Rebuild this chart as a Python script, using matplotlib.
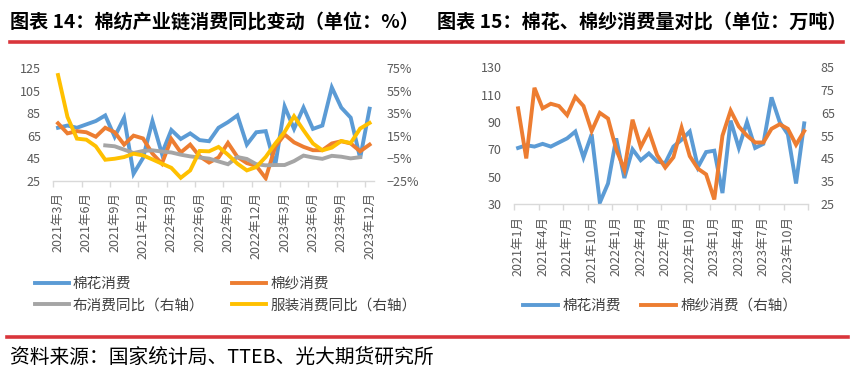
import matplotlib
matplotlib.use('Agg')
import matplotlib.pyplot as plt
from matplotlib.lines import Line2D
from matplotlib.ticker import FixedLocator, FuncFormatter
import numpy as np

plt.rcParams['font.family'] = ['Noto Sans CJK SC', 'DejaVu Sans']

# ---------------- data ----------------
# right chart: 2021-01 .. 2023-12 (万吨)
cotton = [71, 73, 72, 74, 72, 75, 78, 83, 64, 81, 31, 45,
          78, 49, 70, 62, 67, 61, 60, 72, 77, 83, 57, 68,
          69, 38, 91, 71, 90, 71, 74, 108, 90, 81, 45, 89]
yarn = [67, 45, 76, 67, 69, 68, 64, 72, 68, 57, 65, 62.5,
        49, 40, 62, 50, 57, 46.5, 41, 45.5, 58.5, 46, 40.5, 38,
        27, 55, 66, 59, 55, 52, 52, 58, 60, 58, 51, 57]

# left chart: 2021-03 .. 2023-12
cotton_left = cotton[2:]
yarn_left = yarn[2:]
fabric_yoy = [np.nan] * 5 + [6.3, 5.5, 2.5, -0.5, 1.3, 1.9, 0.8, 0.0, -2.0, -3.5,
                             -4.5, -5.5, -8.0, -10.5, -4.1, -5.8, -10.5, -11.5, -11.2, -11.2,
                             -7.7, -2.8, -4.5, -5.7, -3.0, -3.8, -5.3, -4.2] + [np.nan]
apparel_yoy = [69, 31.7, 12.3, 11.4, 5.5, -6.5, -5.6, -4.1, -1.1, -2.6,
               -6.2, -10, -13.7, -22.6, -16, 1.3, 1, 4.9, -2, -10,
               -16, -13, -4, 7.8, 18.3, 32.3, 19.8, 8, 1.9, 4.3,
               10.2, 8.4, 21.3, 26.3]

left_xlabels = ['2021年3月', '2021年6月', '2021年9月', '2021年12月',
                '2022年3月', '2022年6月', '2022年9月', '2022年12月',
                '2023年3月', '2023年6月', '2023年9月', '2023年12月']
right_xlabels = ['2021年1月', '2021年4月', '2021年7月', '2021年10月',
                 '2022年1月', '2022年4月', '2022年7月', '2022年10月',
                 '2023年1月', '2023年4月', '2023年7月', '2023年10月']
left_yticks = [25, 45, 65, 85, 105, 125]
left_y2ticks = [-25, -5, 15, 35, 55, 75]
right_yticks = [30, 50, 70, 90, 110, 130]
right_y2ticks = [25, 35, 45, 55, 65, 75, 85]

BLUE = '#5B9BD5'
ORANGE = '#ED7D31'
GRAY = '#A5A5A5'
YELLOW = '#FFC000'
TXT = '#595959'
AXC = '#D9D9D9'
LW = 2.8
FS_TICK = 9
FS_LEG = 10.5

W, H = 856, 381
fig = plt.figure(figsize=(W / 100, H / 100), dpi=100)


def px_axes(x0, x1, ytop, ybot):
    return fig.add_axes([x0 / W, 1 - ybot / H, (x1 - x0) / W, (ybot - ytop) / H])


def style(ax, ax2, n, labels):
    for a in (ax, ax2):
        for s in a.spines.values():
            s.set_visible(False)
        a.set_facecolor('none')
    ax.spines['bottom'].set_visible(True)
    ax.spines['bottom'].set_color(AXC)
    ax.spines['bottom'].set_linewidth(1.0)
    ax.set_xlim(-0.5, n - 0.5)
    ax.xaxis.set_major_locator(FixedLocator(np.arange(-0.5, n - 0.4, 3)))
    ax.xaxis.set_minor_locator(FixedLocator(np.arange(0, n, 3)))
    ax.set_xticklabels([], minor=False)
    ax.set_xticklabels(labels, minor=True, rotation=90, fontsize=FS_TICK, color=TXT)
    ax.tick_params(axis='x', which='major', length=4, color=AXC, width=1.0, direction='out')
    ax.tick_params(axis='x', which='minor', length=0, pad=8.5)
    ax.tick_params(axis='y', length=0, labelsize=FS_TICK, labelcolor=TXT, pad=9)
    ax2.tick_params(axis='y', length=0, labelsize=FS_TICK, labelcolor=TXT, pad=9)


# ---------------- left chart ----------------
axL = px_axes(53.3, 374.3, 68.3, 180.5)
xl = np.arange(len(cotton_left))
l1, = axL.plot(xl, cotton_left, color=BLUE, lw=LW, solid_joinstyle='miter')
l2, = axL.plot(xl, yarn_left, color=ORANGE, lw=LW, solid_joinstyle='miter')
axL.set_ylim(25, 125)
axL.set_yticks(left_yticks)
axL2 = axL.twinx()
l3, = axL2.plot(xl, fabric_yoy, color=GRAY, lw=LW, solid_joinstyle='miter')
l4, = axL2.plot(xl, apparel_yoy, color=YELLOW, lw=LW, solid_joinstyle='miter')
axL2.set_ylim(-25, 75)
axL2.set_yticks(left_y2ticks)
axL2.yaxis.set_major_formatter(FuncFormatter(lambda v, p: f'{v:.0f}%'.replace('-', '\u2212')))
style(axL, axL2, len(cotton_left), left_xlabels)

fig.legend([l1, l3, l2, l4],
           ['棉花消费', '布消费同比（右轴）', '棉纱消费', '服装消费同比（右轴）'],
           ncol=2, loc='upper left', bbox_to_anchor=(35 / W, 1 - 277 / H),
           frameon=False, fontsize=FS_LEG, labelcolor='#404040',
           handlelength=2.3, handletextpad=0.3, columnspacing=1.9,
           labelspacing=0.5, borderpad=0, borderaxespad=0)

# ---------------- right chart ----------------
axR = px_axes(514, 808.3, 67.3, 204)
xr = np.arange(len(cotton))
r1, = axR.plot(xr, cotton, color=BLUE, lw=LW, solid_joinstyle='miter')
axR.set_ylim(30, 130)
axR.set_yticks(right_yticks)
axR2 = axR.twinx()
r2, = axR2.plot(xr, yarn, color=ORANGE, lw=LW, solid_joinstyle='miter')
axR2.set_ylim(25, 85)
axR2.set_yticks(right_y2ticks)
style(axR, axR2, len(cotton), right_xlabels)

fig.legend([r1, r2], ['棉花消费', '棉纱消费（右轴）'],
           ncol=2, loc='upper left', bbox_to_anchor=(523 / W, 1 - 299 / H),
           frameon=False, fontsize=FS_LEG, labelcolor='#404040',
           handlelength=2.4, handletextpad=0.3, columnspacing=1.4,
           borderpad=0, borderaxespad=0)

# ---------------- titles / decorations ----------------
fig.text(10 / W, 1 - 23 / H, '图表 14：棉纺产业链消费同比变动（单位：%）',
         fontsize=13.8, fontweight='bold', color='black', va='center', ha='left')
fig.text(437 / W, 1 - 23 / H, '图表 15：棉花、棉纱消费量对比（单位：万吨）',
         fontsize=13.8, fontweight='bold', color='black', va='center', ha='left')
fig.add_artist(Line2D([10 / W, 843 / W], [1 - 42 / H] * 2, color='#D9353B', lw=2.6))
fig.add_artist(Line2D([7 / W, 848 / W], [1 - 337 / H] * 2, color='#D9353B', lw=2.6))
fig.text(10 / W, 1 - 358 / H, '资料来源：国家统计局、TTEB、光大期货研究所',
         fontsize=14.2, color='black', va='center', ha='left')

fig.savefig('out.png', dpi=100)
